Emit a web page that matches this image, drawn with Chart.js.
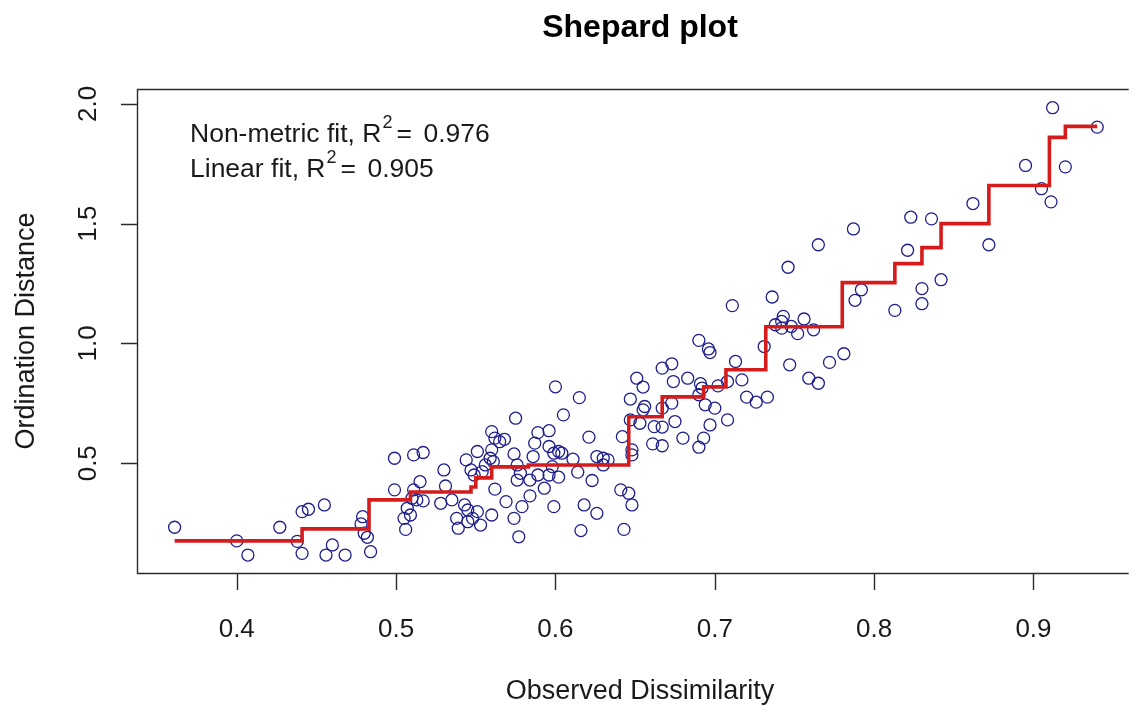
<!DOCTYPE html>
<html>
<head>
<meta charset="utf-8">
<script src="https://cdn.jsdelivr.net/npm/chart.js@4.4.1/dist/chart.umd.min.js"></script>
<style>
  html, body { margin: 0; padding: 0; background: #ffffff; }
  canvas { display: block; }
</style>
</head>
<body>
<canvas id="c" width="1134" height="707"></canvas>
<script>
// ---- Data ----
const obsX = [
  0.361,0.400,0.407,0.427,0.438,0.441,0.441,0.445,0.455,0.460,0.456,0.468,0.479,0.478,0.480,0.482,0.484,
  0.499,0.511,0.517,0.499,0.515,0.511,0.510,0.513,0.517,0.507,0.509,0.505,0.506,
  0.530,0.531,0.528,0.535,0.543,0.545,0.538,0.539,0.545,0.548,0.551,0.553,
  0.544,0.547,0.549,0.551,0.554,0.556,0.559,0.560,0.561,0.560,0.562,0.565,0.568,0.575,
  0.562,0.569,0.560,0.574,0.577,0.574,0.576,0.578,0.576,0.584,0.579,0.584,
  0.586,0.587,0.589,0.596,0.596,0.589,0.593,0.596,0.599,0.598,0.599,0.600,
  0.615,0.605,0.621,0.602,0.604,0.611,0.614,0.623,0.602,0.618,0.626,0.616,0.643,
  0.626,0.630,0.633,0.630,0.642,0.648,0.648,0.641,0.646,0.648,
  0.647,0.651,0.655,0.647,0.653,0.656,0.655,0.662,0.667,0.661,0.667,
  0.667,0.673,0.674,0.683,0.673,0.667,0.675,0.680,
  0.690,0.696,0.697,0.691,0.692,0.694,0.697,0.693,0.690,
  0.690,0.700,0.702,0.708,0.717,0.713,0.708,0.720,0.726,0.733,0.731,0.711,0.736,0.746,0.765,0.787,
  0.743,0.742,0.738,0.742,0.748,0.752,0.756,0.762,0.747,0.759,0.765,0.772,0.781,0.788,0.792,
  0.813,0.823,0.836,0.821,0.830,0.830,0.842,0.862,0.872,0.895,0.905,0.911,0.912,0.920,0.940
];
const obsY = [
  0.233,0.176,0.117,0.233,0.174,0.124,0.298,0.308,0.326,0.159,0.117,0.117,0.277,0.247,0.208,0.191,0.131,
  0.521,0.535,0.545,0.389,0.423,0.389,0.354,0.347,0.343,0.312,0.284,0.270,0.224,
  0.472,0.405,0.333,0.347,0.326,0.305,0.270,0.229,0.256,0.270,0.298,0.242,
  0.514,0.472,0.451,0.549,0.465,0.493,0.521,0.556,0.507,0.632,0.605,0.590,0.600,0.688,
  0.392,0.340,0.284,0.270,0.193,0.539,0.493,0.458,0.430,0.430,0.319,0.364,
  0.528,0.584,0.628,0.636,0.570,0.451,0.396,0.451,0.319,0.486,0.542,0.819,
  0.774,0.702,0.609,0.549,0.542,0.517,0.463,0.428,0.442,0.326,0.291,0.219,0.224,
  0.528,0.521,0.514,0.493,0.611,0.556,0.535,0.389,0.375,0.326,
  0.768,0.855,0.818,0.681,0.667,0.737,0.723,0.653,0.651,0.581,0.573,
  0.897,0.915,0.841,0.855,0.751,0.730,0.674,0.605,
  1.013,0.977,0.962,0.832,0.814,0.744,0.660,0.605,0.567,
  0.786,0.730,0.823,0.841,0.848,0.925,0.681,0.776,0.755,0.776,0.987,1.158,1.194,1.318,1.412,1.478,
  1.113,1.092,1.078,1.064,1.071,1.041,1.102,1.057,0.911,0.855,0.834,0.921,0.957,1.180,1.224,
  1.138,1.527,1.520,1.389,1.229,1.166,1.266,1.584,1.412,1.743,1.646,1.591,1.984,1.737,1.903
];
// Monotone (non-metric) step fit: level stepY[i] starts at stepX[i]
const stepX = [0.361,0.441,0.483,0.509,0.547,0.550,0.560,0.583,0.646,0.667,0.693,0.707,0.732,0.780,0.813,0.830,0.842,0.872,0.910,0.920,0.940];
const stepY = [0.176,0.226,0.347,0.380,0.401,0.439,0.485,0.493,0.694,0.777,0.819,0.890,1.070,1.254,1.333,1.400,1.500,1.659,1.860,1.906,1.906];

const xTicks = [0.4, 0.5, 0.6, 0.7, 0.8, 0.9];
const yTicks = [0.5, 1.0, 1.5, 2.0];
const xTickLabels = ["0.4", "0.5", "0.6", "0.7", "0.8", "0.9"];
const yTickLabels = ["0.5", "1.0", "1.5", "2.0"];
const titleText = "Shepard plot";
const xTitle = "Observed Dissimilarity";
const yTitle = "Ordination Distance";
const fitLines = [
  { label: "Non-metric fit, R", value: "0.976" },
  { label: "Linear fit, R", value: "0.905" }
];

// ---- Build datasets ----
const pts = obsX.map((x, i) => ({ x: x, y: obsY[i] }));
const steps = stepX.map((x, i) => ({ x: x, y: stepY[i] }));

const FONT = "'Liberation Sans', Arial, Helvetica, sans-serif";
const INK = "#2b2b2b";

const decor = {
  id: 'decor',
  afterDraw(chart) {
    const ctx = chart.ctx;
    const a = chart.chartArea;
    const xs = chart.scales.x, ys = chart.scales.y;
    ctx.save();
    ctx.strokeStyle = INK;
    ctx.fillStyle = "#1a1a1a";
    ctx.lineWidth = 1.4;
    // box (right side lies outside the canvas)
    ctx.beginPath();
    ctx.moveTo(a.right + 2, a.top + 0.5);
    ctx.lineTo(a.left + 0.5, a.top + 0.5);
    ctx.lineTo(a.left + 0.5, a.bottom + 0.5);
    ctx.lineTo(a.right + 2, a.bottom + 0.5);
    ctx.stroke();

    // x axis ticks
    ctx.beginPath();
    xTicks.forEach(v => {
      const px = Math.round(xs.getPixelForValue(v)) + 0.5;
      ctx.moveTo(px, a.bottom);
      ctx.lineTo(px, a.bottom + 17);
    });
    ctx.stroke();
    ctx.font = "26px " + FONT;
    ctx.textAlign = "center";
    ctx.textBaseline = "alphabetic";
    xTicks.forEach((v, i) => {
      ctx.fillText(xTickLabels[i], xs.getPixelForValue(v), 637);
    });

    // y axis ticks
    ctx.beginPath();
    yTicks.forEach(v => {
      const py = Math.round(ys.getPixelForValue(v)) + 0.5;
      ctx.moveTo(a.left, py);
      ctx.lineTo(a.left - 16, py);
    });
    ctx.stroke();
    yTicks.forEach((v, i) => {
      ctx.save();
      ctx.translate(96, ys.getPixelForValue(v));
      ctx.rotate(-Math.PI / 2);
      ctx.textAlign = "center";
      ctx.fillText(yTickLabels[i], 0, 0);
      ctx.restore();
    });

    // axis titles
    ctx.font = "27px " + FONT;
    ctx.textAlign = "center";
    ctx.fillText(xTitle, 640, 699);
    ctx.save();
    ctx.translate(34, (a.top + a.bottom) / 2);
    ctx.rotate(-Math.PI / 2);
    ctx.fillText(yTitle, 0, 0);
    ctx.restore();

    // main title
    ctx.font = "bold 32px " + FONT;
    ctx.fillStyle = "#000000";
    ctx.fillText(titleText, 640, 37);

    // fit statistics
    ctx.fillStyle = "#1a1a1a";
    ctx.textAlign = "left";
    const baselines = [142, 177];
    fitLines.forEach((f, i) => {
      const bx = 190, by = baselines[i];
      ctx.font = "26.5px " + FONT;
      ctx.fillText(f.label, bx, by);
      const w = ctx.measureText(f.label).width;
      ctx.font = "18px " + FONT;
      ctx.fillText("2", bx + w + 1, by - 14);
      ctx.font = "26.5px " + FONT;
      ctx.fillText("=", bx + w + 15, by);
      ctx.fillText(f.value, bx + w + 42, by);
    });
    ctx.restore();
  }
};

new Chart(document.getElementById('c'), {
  type: 'scatter',
  data: {
    datasets: [
      {
        type: 'line',
        label: 'fit',
        data: steps,
        stepped: 'before',
        borderColor: '#d41c1c',
        borderWidth: 3.6,
        pointRadius: 0,
        fill: false,
        order: 0
      },
      {
        label: 'points',
        data: pts,
        pointStyle: 'circle',
        pointRadius: 6,
        pointBorderWidth: 1.3,
        borderColor: '#1e1e8c',
        backgroundColor: 'rgba(0,0,0,0)',
        order: 1
      }
    ]
  },
  options: {
    responsive: false,
    animation: false,
    devicePixelRatio: 1,
    layout: { padding: { left: 137, top: 89, right: 0, bottom: 134 } },
    scales: {
      x: { type: 'linear', min: 0.3374, max: 0.9585, display: false },
      y: { type: 'linear', min: 0.042, max: 2.062, display: false }
    },
    plugins: { legend: { display: false }, tooltip: { enabled: false } }
  },
  plugins: [decor]
});
</script>
</body>
</html>
